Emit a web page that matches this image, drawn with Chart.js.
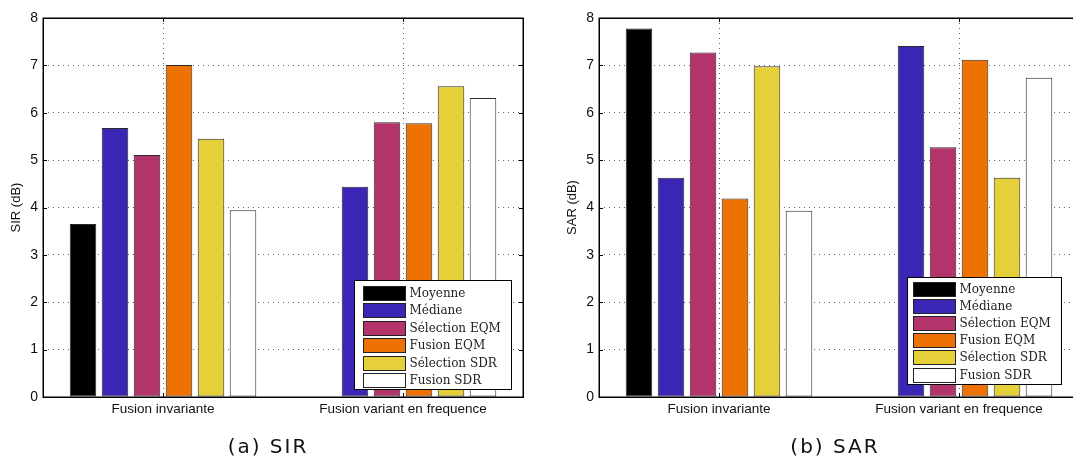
<!DOCTYPE html>
<html>
<head>
<meta charset="utf-8">
<title>SIR / SAR</title>
<script src="https://cdn.jsdelivr.net/npm/chart.js@4/dist/chart.umd.min.js"></script>
<style>
  body { margin: 0; width: 1073px; height: 459px; overflow: hidden; background: #fff; position: relative; }
  .panel { position: absolute; top: 0; height: 459px; }
  #leftPanel { left: 0; width: 540px; }
  #rightPanel { left: 540px; width: 545px; }
  .caption {
    position: absolute; top: 434px; line-height: 24px;
    font-family: "DejaVu Sans", sans-serif; font-size: 20px; letter-spacing: 2px;
    transform: translateX(-50%); white-space: nowrap; color: #111;
  }
</style>
</head>
<body>
<div class="panel" id="leftPanel"><canvas id="sirChart"></canvas></div>
<div class="panel" id="rightPanel"><canvas id="sarChart"></canvas></div>
<div class="caption" style="left:268px">(a) SIR</div>
<div class="caption" style="left:835px">(b) SAR</div>

<script>
// categories and methods
const categories = ['Fusion invariante', 'Fusion variant en frequence'];
const methods = ['Moyenne', 'Médiane', 'Sélection EQM', 'Fusion EQM', 'Sélection SDR', 'Fusion SDR'];
const methodColors = ['#000000', '#3a26b4', '#b3336b', '#ee7203', '#e6d03a', '#ffffff'];
const yTicks = [0, 1, 2, 3, 4, 5, 6, 7, 8];

// SIR (dB), one array per method: [invariante, variant en frequence]
const sirMoyenne = [3.65, 0];
const sirMediane = [5.68, 4.44];
const sirSelectionEqm = [5.11, 5.80];
const sirFusionEqm = [7.01, 5.78];
const sirSelectionSdr = [5.45, 6.56];
const sirFusionSdr = [3.94, 6.31];

// SAR (dB)
const sarMoyenne = [7.78, 0];
const sarMediane = [4.63, 7.41];
const sarSelectionEqm = [7.27, 5.27];
const sarFusionEqm = [4.19, 7.12];
const sarSelectionSdr = [6.98, 4.63];
const sarFusionSdr = [3.93, 6.74];

const sansFont = 'Liberation Sans, Arial, sans-serif';
const serifFont = 'DejaVu Serif, serif';

/**
 * Frame around the plot area with small inward tick marks (matlab style)
 */
const frameTicks = {
  id: 'frameTicks',
  afterDatasetsDraw(chart) {
    const { ctx, chartArea: a, scales } = chart;
    const len = 4;
    ctx.save();
    ctx.strokeStyle = '#000';
    ctx.lineWidth = 1;
    ctx.beginPath();
    yTicks.forEach(v => {
      const y = Math.round(scales.y.getPixelForValue(v)) + 0.5;
      ctx.moveTo(a.left, y); ctx.lineTo(a.left + len, y);
      ctx.moveTo(a.right, y); ctx.lineTo(a.right - len, y);
    });
    categories.forEach((c, i) => {
      const x = Math.round(scales.x.getPixelForValue(i)) + 0.5;
      ctx.moveTo(x, a.top); ctx.lineTo(x, a.top + len);
      ctx.moveTo(x, a.bottom); ctx.lineTo(x, a.bottom - len);
    });
    ctx.stroke();
    ctx.lineWidth = 1.5;
    ctx.strokeRect(Math.round(a.left) + 0.25, Math.round(a.top) + 0.25, Math.round(a.right - a.left), Math.round(a.bottom - a.top));
    ctx.restore();
  }
};

/**
 * Legend drawn inside the plot area, lower right corner
 */
const boxLegend = {
  id: 'boxLegend',
  afterDraw(chart, args, opts) {
    const { ctx, chartArea: a } = chart;
    const w = opts.width, h = opts.height;
    const left = Math.round(a.right - opts.right - w) + 0.5;
    const top = Math.round(a.bottom - opts.bottom - h) + 0.5;
    ctx.save();
    ctx.fillStyle = '#fff';
    ctx.fillRect(left, top, w, h);
    ctx.strokeStyle = '#000';
    ctx.lineWidth = 1;
    ctx.strokeRect(left, top, w, h);
    ctx.font = '12px ' + serifFont;
    ctx.textBaseline = 'middle';
    chart.data.datasets.forEach((ds, i) => {
      const sy = Math.round(top + opts.firstRow + i * opts.rowStep) + 0.5;
      ctx.fillStyle = ds.backgroundColor;
      ctx.fillRect(left + opts.swatchX, sy, 42, 14);
      ctx.strokeStyle = '#222';
      ctx.strokeRect(left + opts.swatchX, sy, 42, 14);
      ctx.fillStyle = '#222';
      ctx.fillText(ds.label, left + opts.swatchX + 46, sy + 7.5);
    });
    ctx.restore();
  }
};

function buildDatasets(seriesList) {
  return seriesList.map((values, i) => ({
    label: methods[i],
    data: values,
    backgroundColor: methodColors[i],
    borderColor: '#2a2a2a',
    borderWidth: 1,
    borderSkipped: false,
    categoryPercentage: 0.8,
    barPercentage: 0.83,
  }));
}

function makeChart(canvasId, title, seriesList, layout) {
  return new Chart(document.getElementById(canvasId), {
    type: 'bar',
    data: { labels: categories, datasets: buildDatasets(seriesList) },
    options: {
      responsive: true,
      maintainAspectRatio: false,
      animation: false,
      layout: { padding: { top: 18, right: layout.padRight, left: 0, bottom: 0 } },
      scales: {
        x: {
          offset: true,
          grid: { offset: false, color: '#666', lineWidth: 1, drawTicks: false },
          border: { display: false, dash: [1, 4] },
          ticks: { color: '#111', font: { family: sansFont, size: 13.5 }, padding: 4, maxRotation: 0 },
          afterFit(s) { s.height = 62; },
        },
        y: {
          min: 0,
          max: 8,
          afterBuildTicks(s) { s.ticks = yTicks.map(v => ({ value: v })); },
          grid: { color: '#666', lineWidth: 1, drawTicks: false },
          border: { display: false, dash: [1, 4] },
          ticks: { color: '#111', font: { family: sansFont, size: 14 }, padding: 5 },
          title: {
            display: true, text: title, color: '#111',
            font: { family: sansFont, size: 13 },
            padding: { top: layout.titlePad, bottom: 0 },
          },
          afterFit(s) { s.width = layout.axisWidth; },
        },
      },
      plugins: {
        legend: { display: false },
        tooltip: { enabled: false },
        boxLegend: layout.legend,
      },
    },
    plugins: [frameTicks, boxLegend],
  });
}

makeChart('sirChart', 'SIR (dB)',
  [sirMoyenne, sirMediane, sirSelectionEqm, sirFusionEqm, sirSelectionSdr, sirFusionSdr],
  { padRight: 17, axisWidth: 43, titlePad: 9,
    legend: { right: 12, bottom: 8, width: 157, height: 109, swatchX: 9, firstRow: 5, rowStep: 17.5 } });

makeChart('sarChart', 'SAR (dB)',
  [sarMoyenne, sarMediane, sarSelectionEqm, sarFusionEqm, sarSelectionSdr, sarFusionSdr],
  { padRight: 6, axisWidth: 59, titlePad: 25,
    legend: { right: 18, bottom: 13, width: 154, height: 107, swatchX: 6, firstRow: 4, rowStep: 17.2 } });
</script>
</body>
</html>
